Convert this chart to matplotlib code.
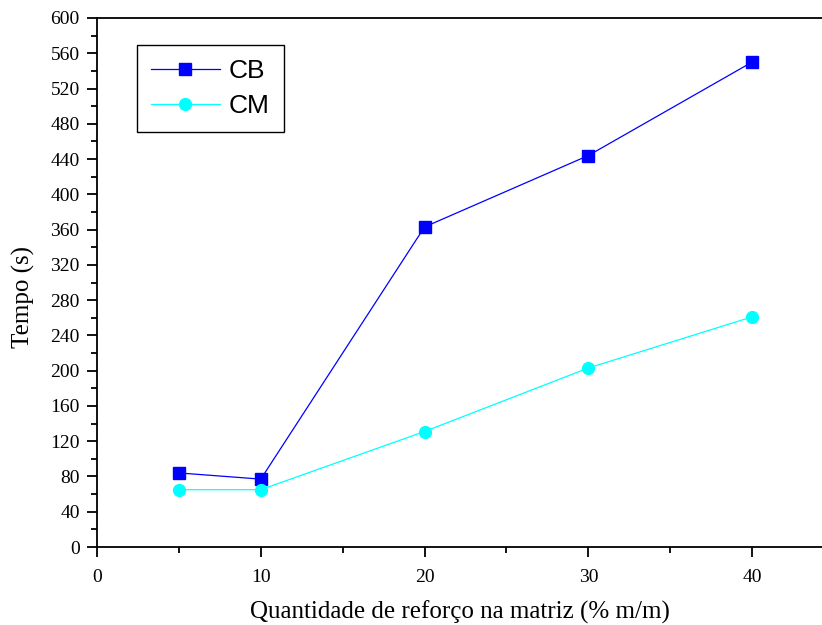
import matplotlib
matplotlib.use("Agg")
import matplotlib.pyplot as plt
from matplotlib.ticker import MultipleLocator

# data
reforco = [5, 10, 20, 30, 40]
tempo_cb = [84, 77, 363, 444, 550]
tempo_cm = [65, 65, 131, 203, 261]

fig = plt.figure(figsize=(8.22, 6.25), dpi=100)
ax = fig.add_axes([97 / 822, 78 / 625, 737 / 822, 529 / 625])

ax.plot(reforco, tempo_cb, color="#0000ff", lw=0.9, marker="s", ms=8.5,
        mec="#0000ff", mfc="#0000ff", label="CB")
ax.plot(reforco, tempo_cm, color="#00ffff", lw=0.9, marker="o", ms=8.5,
        mec="#00ffff", mfc="#00ffff", label="CM")

ax.set_xlim(0, 45)
ax.set_ylim(0, 600)
ax.xaxis.set_major_locator(MultipleLocator(10))
ax.xaxis.set_minor_locator(MultipleLocator(5))
ax.yaxis.set_major_locator(MultipleLocator(40))
ax.yaxis.set_minor_locator(MultipleLocator(20))

serif = "Liberation Serif"
ax.tick_params(which="major", direction="out", length=7.5, width=1.3,
               labelsize=14, pad=5)
ax.tick_params(axis="x", which="major", pad=8)
ax.tick_params(which="minor", direction="out", length=4, width=1.3)
for lab in ax.get_xticklabels() + ax.get_yticklabels():
    lab.set_fontfamily(serif)
for sp in ax.spines.values():
    sp.set_linewidth(1.3)

ax.set_xlabel("Quantidade de reforço na matriz (% m/m)", fontfamily=serif,
              fontsize=18)
ax.set_ylabel("Tempo (s)", fontfamily=serif, fontsize=18)
ax.xaxis.set_label_coords(0.493, -0.101)
ax.yaxis.set_label_coords(-0.084, 0.472)

leg = ax.legend(loc="upper left", bbox_to_anchor=(40 / 737, 1 - 27 / 529),
                borderaxespad=0,
                prop={"family": "Liberation Sans", "size": 19},
                fancybox=False, framealpha=1, edgecolor="black",
                handlelength=2.6, handletextpad=0.35, borderpad=0.53,
                labelspacing=0.41)
leg.get_frame().set_linewidth(1.0)

fig.savefig("out.png", dpi=100)
